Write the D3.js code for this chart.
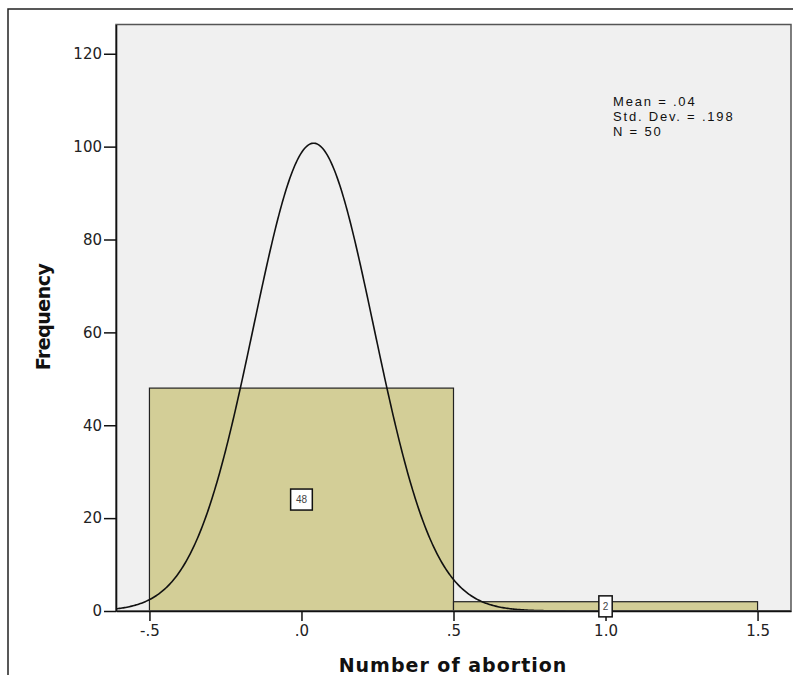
<!DOCTYPE html>
<html>
<head>
<meta charset="utf-8">
<script src="https://cdn.jsdelivr.net/npm/d3@7"></script>
<style>
  body { margin: 0; background: #fff; }
  svg { display: block; }
</style>
</head>
<body>
<svg id="chart" width="793" height="675"></svg>
<script>
// histogram bins (lower edge, upper edge, count)
var binStarts = [-0.5, 0.5];
var binEnds = [0.5, 1.5];
var binCounts = [48, 2];

// ticks
var yTicks = [0, 20, 40, 60, 80, 100, 120];
var xTicks = [-0.5, 0, 0.5, 1.0, 1.5];
var xTickLabels = ["-.5", ".0", ".5", "1.0", "1.5"];

// summary stats shown in the box
var statLines = ["Mean = .04", "Std. Dev. = .198", "N = 50"];
var mean = 0.04, stdDev = 0.198, nCases = 50, binWidth = 1;

var svg = d3.select("#chart");

// plot area (window.top is reserved, so use other names)
var plotLeft = 116, plotRight = 791, plotTop = 24.5, plotBottom = 611;

var x = d3.scaleLinear().domain([-0.61, 1.61]).range([plotLeft, plotRight]);
var y = d3.scaleLinear().domain([0, 126.3]).range([plotBottom, plotTop]);

// outer frame of the output
svg.append("path")
    .attr("d", "M8,675V9H793")
    .attr("fill", "none")
    .attr("stroke", "#222")
    .attr("stroke-width", 1.5);

// plot background
svg.append("rect")
    .attr("x", plotLeft).attr("y", plotTop)
    .attr("width", plotRight - plotLeft).attr("height", plotBottom - plotTop)
    .attr("fill", "#f0f0f0");

// bars
svg.selectAll("rect.bar")
    .data(binCounts)
    .enter().append("rect")
    .attr("class", "bar")
    .attr("x", function(d, i){ return x(binStarts[i]); })
    .attr("width", function(d, i){ return x(binEnds[i]) - x(binStarts[i]); })
    .attr("y", function(d){ return y(d); })
    .attr("height", function(d){ return y(0) - y(d); })
    .attr("fill", "#d3ce97")
    .attr("stroke", "#222")
    .attr("stroke-width", 1.2);

// fitted normal curve
var xs = d3.range(-0.61, 1.6101, 0.004);
var line = d3.line()
    .x(function(d){ return x(d); })
    .y(function(d){
        var z = (d - mean) / stdDev;
        return y(nCases * binWidth * Math.exp(-0.5 * z * z) / (stdDev * Math.sqrt(2 * Math.PI)));
    });

svg.append("path")
    .datum(xs)
    .attr("d", line)
    .attr("fill", "none")
    .attr("stroke", "#111")
    .attr("stroke-width", 1.6);

// plot frame (top/right gray)
svg.append("rect")
    .attr("x", plotLeft).attr("y", plotTop)
    .attr("width", plotRight - plotLeft).attr("height", plotBottom - plotTop)
    .attr("fill", "none")
    .attr("stroke", "#555")
    .attr("stroke-width", 1.5);

// y axis
var yAxis = svg.append("g")
    .attr("transform", "translate(" + plotLeft + ",0)")
    .call(d3.axisLeft(y).tickValues(yTicks).tickSize(12).tickSizeOuter(0).tickPadding(2));

// x axis
var xAxis = svg.append("g")
    .attr("transform", "translate(0," + plotBottom + ")")
    .call(d3.axisBottom(x).tickValues(xTicks).tickSize(10).tickSizeOuter(0).tickPadding(4)
        .tickFormat(function(d, i){ return xTickLabels[i]; }));

[yAxis, xAxis].forEach(function(g){
    g.select(".domain").attr("stroke", "#111").attr("stroke-width", 1.6);
    g.selectAll(".tick line").attr("stroke", "#111").attr("stroke-width", 1.5);
    g.selectAll(".tick text")
        .attr("fill", "#222")
        .style("font-family", "DejaVu Sans, Verdana, sans-serif")
        .style("font-size", "15px");
});

// count labels in boxes at bar mid-height
binCounts.forEach(function(d, i){
    var cx = x((binStarts[i] + binEnds[i]) / 2), cy = y(d / 2);
    var g = svg.append("g");
    var box = g.append("rect");
    var t = g.append("text")
        .attr("x", cx).attr("y", cy)
        .attr("dy", "0.35em")
        .attr("text-anchor", "middle")
        .style("font-family", "Liberation Sans, Arial, sans-serif")
        .style("font-size", "10px")
        .attr("fill", "#444")
        .text(d);
    var tw = t.node().getComputedTextLength();
    var bw = tw * 1.5 + 5, bh = 21;
    box.attr("x", cx - bw / 2).attr("y", cy - bh / 2)
        .attr("width", bw).attr("height", bh)
        .attr("fill", "#fff")
        .attr("stroke", "#111")
        .attr("stroke-width", 1.5);
});

// stats text
svg.append("g").selectAll("text")
    .data(statLines)
    .enter().append("text")
    .attr("x", 613)
    .attr("y", function(d, i){ return 105.5 + i * 15; })
    .style("font-family", "Liberation Sans, Arial, sans-serif")
    .style("font-size", "13px")
    .style("letter-spacing", "1.8px")
    .attr("fill", "#111")
    .text(function(d){ return d; });

// axis titles
svg.append("text")
    .attr("x", 453).attr("y", 671.5)
    .attr("text-anchor", "middle")
    .style("font-family", "DejaVu Sans, Verdana, sans-serif")
    .style("font-weight", "bold")
    .style("font-size", "19px")
    .style("letter-spacing", "1px")
    .attr("fill", "#111")
    .text("Number of abortion");

svg.append("text")
    .attr("transform", "translate(50,317) rotate(-90)")
    .attr("text-anchor", "middle")
    .style("font-family", "DejaVu Sans, Verdana, sans-serif")
    .style("font-weight", "bold")
    .style("font-size", "19px")
    .style("letter-spacing", "-0.5px")
    .attr("fill", "#111")
    .text("Frequency");
</script>
</body>
</html>
